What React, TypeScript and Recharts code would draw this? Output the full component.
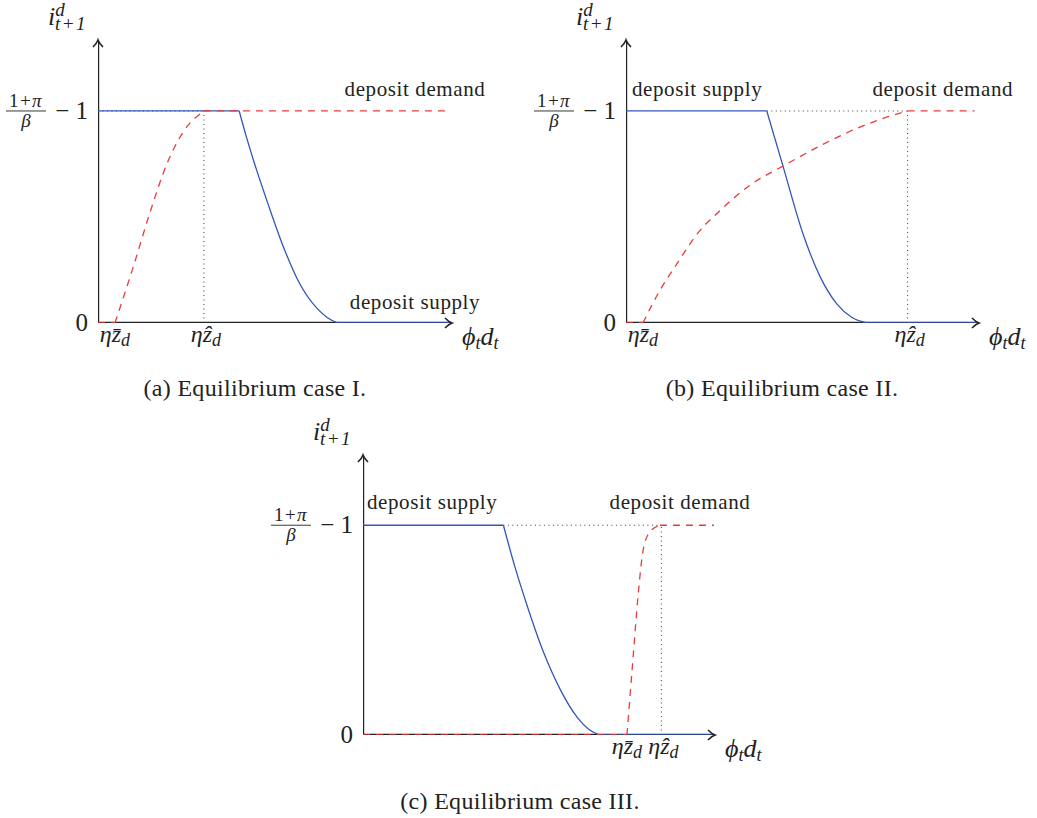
import React from 'react';
import { LineChart, Line, XAxis, YAxis, ReferenceLine, ReferenceDot } from 'recharts';

type Pt = { x: number; y: number };

const SERIF = '"Liberation Serif", "Times New Roman", serif';
const BLUE = '#3556b8';
const RED = '#ec3a3a';
const INK = '#222';
const DOT = '#3a3a3a';

const X_MAX = 10;
const Y_MAX = 1.33;
const Y_TICKS = [0, 1];

// axis strokes, drawn as lines so the curves can sit on top of them
const xAxisPath: Pt[] = [{ x: 0, y: 0 }, { x: X_MAX, y: 0 }];
const yAxisPath: Pt[] = [{ x: 0, y: 0 }, { x: 0, y: Y_MAX }];

// Case I: demand saturates before supply starts falling
const supplyTopA: Pt[] = [{ x: 0, y: 1 }, { x: 4, y: 1 }];
const supplyDropA: Pt[] = [
  { x: 4, y: 1 }, { x: 4.2, y: 0.88 }, { x: 4.4, y: 0.77 }, { x: 4.8, y: 0.57 },
  { x: 5.25, y: 0.36 }, { x: 5.7, y: 0.19 }, { x: 6.2, y: 0.07 }, { x: 6.5, y: 0.025 }, { x: 6.8, y: 0 },
];
const supplyFloorA: Pt[] = [{ x: 6.8, y: 0 }, { x: 10, y: 0 }];
const demandFloorA: Pt[] = [{ x: 0, y: 0 }, { x: 0.48, y: 0 }];
const demandRiseA: Pt[] = [
  { x: 0.48, y: 0 }, { x: 0.99, y: 0.26 }, { x: 1.47, y: 0.52 }, { x: 1.95, y: 0.75 },
  { x: 2.41, y: 0.9 }, { x: 3, y: 1 },
];
const demandTopA: Pt[] = [{ x: 3, y: 1 }, { x: 10, y: 1 }];
const zTicksA = [0.48, 3];

// Case II: curves cross on the falling part of supply
const supplyTopB: Pt[] = [{ x: 0, y: 1 }, { x: 4, y: 1 }];
const supplyDropB: Pt[] = [
  { x: 4, y: 1 }, { x: 4.46, y: 0.74 }, { x: 5.03, y: 0.42 }, { x: 5.51, y: 0.22 },
  { x: 5.99, y: 0.09 }, { x: 6.4, y: 0.028 }, { x: 6.85, y: 0 },
];
const supplyFloorB: Pt[] = [{ x: 6.85, y: 0 }, { x: 10, y: 0 }];
const demandFloorB: Pt[] = [{ x: 0, y: 0 }, { x: 0.48, y: 0 }];
const demandRiseB: Pt[] = [
  { x: 0.48, y: 0 }, { x: 0.97, y: 0.156 }, { x: 1.45, y: 0.28 }, { x: 2.02, y: 0.42 },
  { x: 2.67, y: 0.53 }, { x: 3.44, y: 0.64 }, { x: 4.57, y: 0.75 }, { x: 5.51, y: 0.835 },
  { x: 6.45, y: 0.91 }, { x: 7.22, y: 0.96 }, { x: 8, y: 1 },
];
const demandTopB: Pt[] = [{ x: 8, y: 1 }, { x: 9.9, y: 1 }];
const zTicksB = [0.48, 8];

// Case III: demand only starts after supply has hit zero
const supplyTopC: Pt[] = [{ x: 0, y: 1 }, { x: 4, y: 1 }];
const supplyDropC: Pt[] = [
  { x: 4, y: 1 }, { x: 4.33, y: 0.8 }, { x: 4.67, y: 0.62 }, { x: 5.13, y: 0.4 },
  { x: 5.61, y: 0.22 }, { x: 6.1, y: 0.085 }, { x: 6.45, y: 0.025 }, { x: 6.75, y: 0 },
];
const supplyFloorC: Pt[] = [{ x: 6.75, y: 0 }, { x: 10, y: 0 }];
const demandFloorC: Pt[] = [{ x: 0, y: 0 }, { x: 7.52, y: 0 }];
const demandRiseC: Pt[] = [
  { x: 7.52, y: 0 }, { x: 7.69, y: 0.36 }, { x: 7.84, y: 0.67 }, { x: 7.98, y: 0.88 },
  { x: 8.18, y: 0.97 }, { x: 8.46, y: 1 },
];
const demandTopC: Pt[] = [{ x: 8.46, y: 1 }, { x: 10, y: 1 }];
const zTicksC = [7.52, 8.5];

const YTick = ({ x, y, payload }: any) => {
  if (payload.value === 0) {
    return (
      <text x={x - 10} y={y + 8} textAnchor="end" fontFamily={SERIF} fontSize={25} fill={INK}>0</text>
    );
  }
  return (
    <g fontFamily={SERIF} fill={INK}>
      <text x={x - 72} y={y - 4} textAnchor="middle" fontSize={19} letterSpacing={1.5}>
        1+<tspan fontStyle="italic">π</tspan>
      </text>
      <line x1={x - 92} x2={x - 52} y1={y} y2={y} stroke={INK} strokeWidth={0.9} />
      <text x={x - 72} y={y + 16} textAnchor="middle" fontSize={19} fontStyle="italic">β</text>
      <text x={x - 10} y={y + 8} textAnchor="end" fontSize={25}>− 1</text>
    </g>
  );
};

// first tick is eta z-bar, second is eta z-hat
const ZTick = ({ x, y, index }: any) => (
  <text x={x + index * 2} y={y + 19} textAnchor="middle" fontFamily={SERIF} fontStyle="italic" fontSize={24} fill={INK}>
    η{index === 0 ? 'z\u0304' : 'z\u0302'}
    <tspan fontSize={18} dy={4}>d</tspan>
  </text>
);

const XArrow = ({ cx, cy }: any) => (
  <g>
    <path
      d={`M${cx - 6},${cy - 5} Q${cx - 2},${cy - 1} ${cx + 1},${cy} Q${cx - 2},${cy + 1} ${cx - 6},${cy + 5}`}
      fill="none" stroke={INK} strokeWidth={1.6}
    />
    <text x={cx + 11} y={cy + 22} fontFamily={SERIF} fontStyle="italic" fontSize={26} fill={INK}>
      ϕ<tspan fontSize={18} dy={4}>t</tspan><tspan dy={-4}>d</tspan><tspan fontSize={18} dy={4}>t</tspan>
    </text>
  </g>
);

const YArrow = ({ cx, cy }: any) => (
  <g>
    <path
      d={`M${cx - 5},${cy + 6} Q${cx - 1},${cy + 2} ${cx},${cy - 1} Q${cx + 1},${cy + 2} ${cx + 5},${cy + 6}`}
      fill="none" stroke={INK} strokeWidth={1.6}
    />
    <text x={cx - 50} y={cy - 16} fontFamily={SERIF} fontStyle="italic" fontSize={26} fill={INK}>
      i<tspan fontSize={19} dy={-9}>d</tspan>
      <tspan fontSize={19} x={cx - 43} dy={14} letterSpacing={1.5}>t+1</tspan>
    </text>
  </g>
);

const note = (text: string) => ({ cx, cy }: any) => (
  <text x={cx} y={cy} textAnchor="middle" fontFamily={SERIF} fontSize={21} letterSpacing={0.6} fill={INK}>
    {text}
  </text>
);

interface PanelProps {
  left: number;
  top: number;
  width: number;
  height: number;
  margin: { top: number; right: number; bottom: number; left: number };
  supply: [Pt[], Pt[], Pt[]];
  demand: [Pt[], Pt[], Pt[]];
  zTicks: number[];
  guides: [Pt, Pt][];
  notes: { x: number; y: number; text: string }[];
}

const lineProps = { dataKey: 'y', dot: false, activeDot: false, isAnimationActive: false } as const;

// axes take 1px each, so margins are one less than the plot offsets
const Panel = ({ left, top, width, height, margin, supply, demand, zTicks, guides, notes }: PanelProps) => (
  <div style={{ position: 'absolute', left, top }}>
    <LineChart
      width={width}
      height={height}
      margin={{ ...margin, left: margin.left - 1, bottom: margin.bottom - 1 }}
    >
      <XAxis
        type="number" dataKey="x" domain={[0, X_MAX]} ticks={zTicks} interval={0}
        height={1} tickSize={0} tickMargin={0} tickLine={false} tick={<ZTick />}
        axisLine={false} allowDataOverflow
      />
      <YAxis
        type="number" dataKey="y" domain={[0, Y_MAX]} ticks={Y_TICKS} interval={0}
        width={1} tickSize={0} tickMargin={0} tickLine={false} tick={<YTick />}
        axisLine={false} allowDataOverflow
      />
      {guides.map((seg, i) => (
        <ReferenceLine key={`g${i}`} segment={seg} stroke={DOT} strokeWidth={1} strokeDasharray="1 3.5" ifOverflow="visible" />
      ))}
      <Line {...lineProps} data={xAxisPath} type="linear" stroke={INK} strokeWidth={2.4} />
      <Line {...lineProps} data={yAxisPath} type="linear" stroke={INK} strokeWidth={2.4} />
      <Line {...lineProps} data={supply[0]} type="linear" stroke={BLUE} strokeWidth={1.3} />
      <Line {...lineProps} data={supply[1]} type="monotone" stroke={BLUE} strokeWidth={1.3} />
      <Line {...lineProps} data={supply[2]} type="linear" stroke={BLUE} strokeWidth={1.6} />
      <Line {...lineProps} data={demand[0]} type="linear" stroke={RED} strokeWidth={1.6} strokeDasharray="7 6" />
      <Line {...lineProps} data={demand[1]} type="monotone" stroke={RED} strokeWidth={1.3} strokeDasharray="7 6" />
      <Line {...lineProps} data={demand[2]} type="linear" stroke={RED} strokeWidth={1.3} strokeDasharray="7 6" />
      <ReferenceDot x={X_MAX} y={0} ifOverflow="visible" shape={<XArrow />} />
      <ReferenceDot x={0} y={Y_MAX} ifOverflow="visible" shape={<YArrow />} />
      {notes.map((n, i) => (
        <ReferenceDot key={`n${i}`} x={n.x} y={n.y} ifOverflow="visible" shape={note(n.text)} />
      ))}
    </LineChart>
  </div>
);

const Caption = ({ center, top, text }: { center: number; top: number; text: string }) => (
  <div
    style={{
      position: 'absolute', left: center - 200, top, width: 400, textAlign: 'center',
      fontFamily: SERIF, fontSize: 24, lineHeight: '24px', color: INK, letterSpacing: 0.3,
    }}
  >
    {text}
  </div>
);

export default function App() {
  return (
    <div style={{ position: 'absolute', left: 0, top: 0, width: 1037, height: 818, background: '#fff', overflow: 'hidden' }}>
      <Panel
        left={0} top={0} width={520} height={400}
        margin={{ top: 41, right: 69, bottom: 77, left: 98 }}
        supply={[supplyTopA, supplyDropA, supplyFloorA]}
        demand={[demandFloorA, demandRiseA, demandTopA]}
        zTicks={zTicksA}
        guides={[
          [{ x: 0, y: 1 }, { x: 3, y: 1 }],
          [{ x: 3, y: 0 }, { x: 3, y: 1 }],
        ]}
        notes={[
          { x: 8.98, y: 1.07, text: 'deposit demand' },
          { x: 8.98, y: 0.066, text: 'deposit supply' },
        ]}
      />
      <Panel
        left={520} top={0} width={517} height={400}
        margin={{ top: 41, right: 59, bottom: 77, left: 106 }}
        supply={[supplyTopB, supplyDropB, supplyFloorB]}
        demand={[demandFloorB, demandRiseB, demandTopB]}
        zTicks={zTicksB}
        guides={[
          [{ x: 4, y: 1 }, { x: 8, y: 1 }],
          [{ x: 8, y: 0 }, { x: 8, y: 1 }],
        ]}
        notes={[
          { x: 2.02, y: 1.07, text: 'deposit supply' },
          { x: 9.0, y: 1.07, text: 'deposit demand' },
        ]}
      />
      <Panel
        left={260} top={410} width={520} height={408}
        margin={{ top: 46, right: 66, bottom: 83, left: 103 }}
        supply={[supplyTopC, supplyDropC, supplyFloorC]}
        demand={[demandFloorC, demandRiseC, demandTopC]}
        zTicks={zTicksC}
        guides={[
          [{ x: 4, y: 1 }, { x: 8.5, y: 1 }],
          [{ x: 8.5, y: 0 }, { x: 8.5, y: 1 }],
        ]}
        notes={[
          { x: 1.97, y: 1.077, text: 'deposit supply' },
          { x: 9.03, y: 1.077, text: 'deposit demand' },
        ]}
      />
      <Caption center={255} top={376} text="(a) Equilibrium case I." />
      <Caption center={782} top={376} text="(b) Equilibrium case II." />
      <Caption center={520} top={789} text="(c) Equilibrium case III." />
    </div>
  );
}
